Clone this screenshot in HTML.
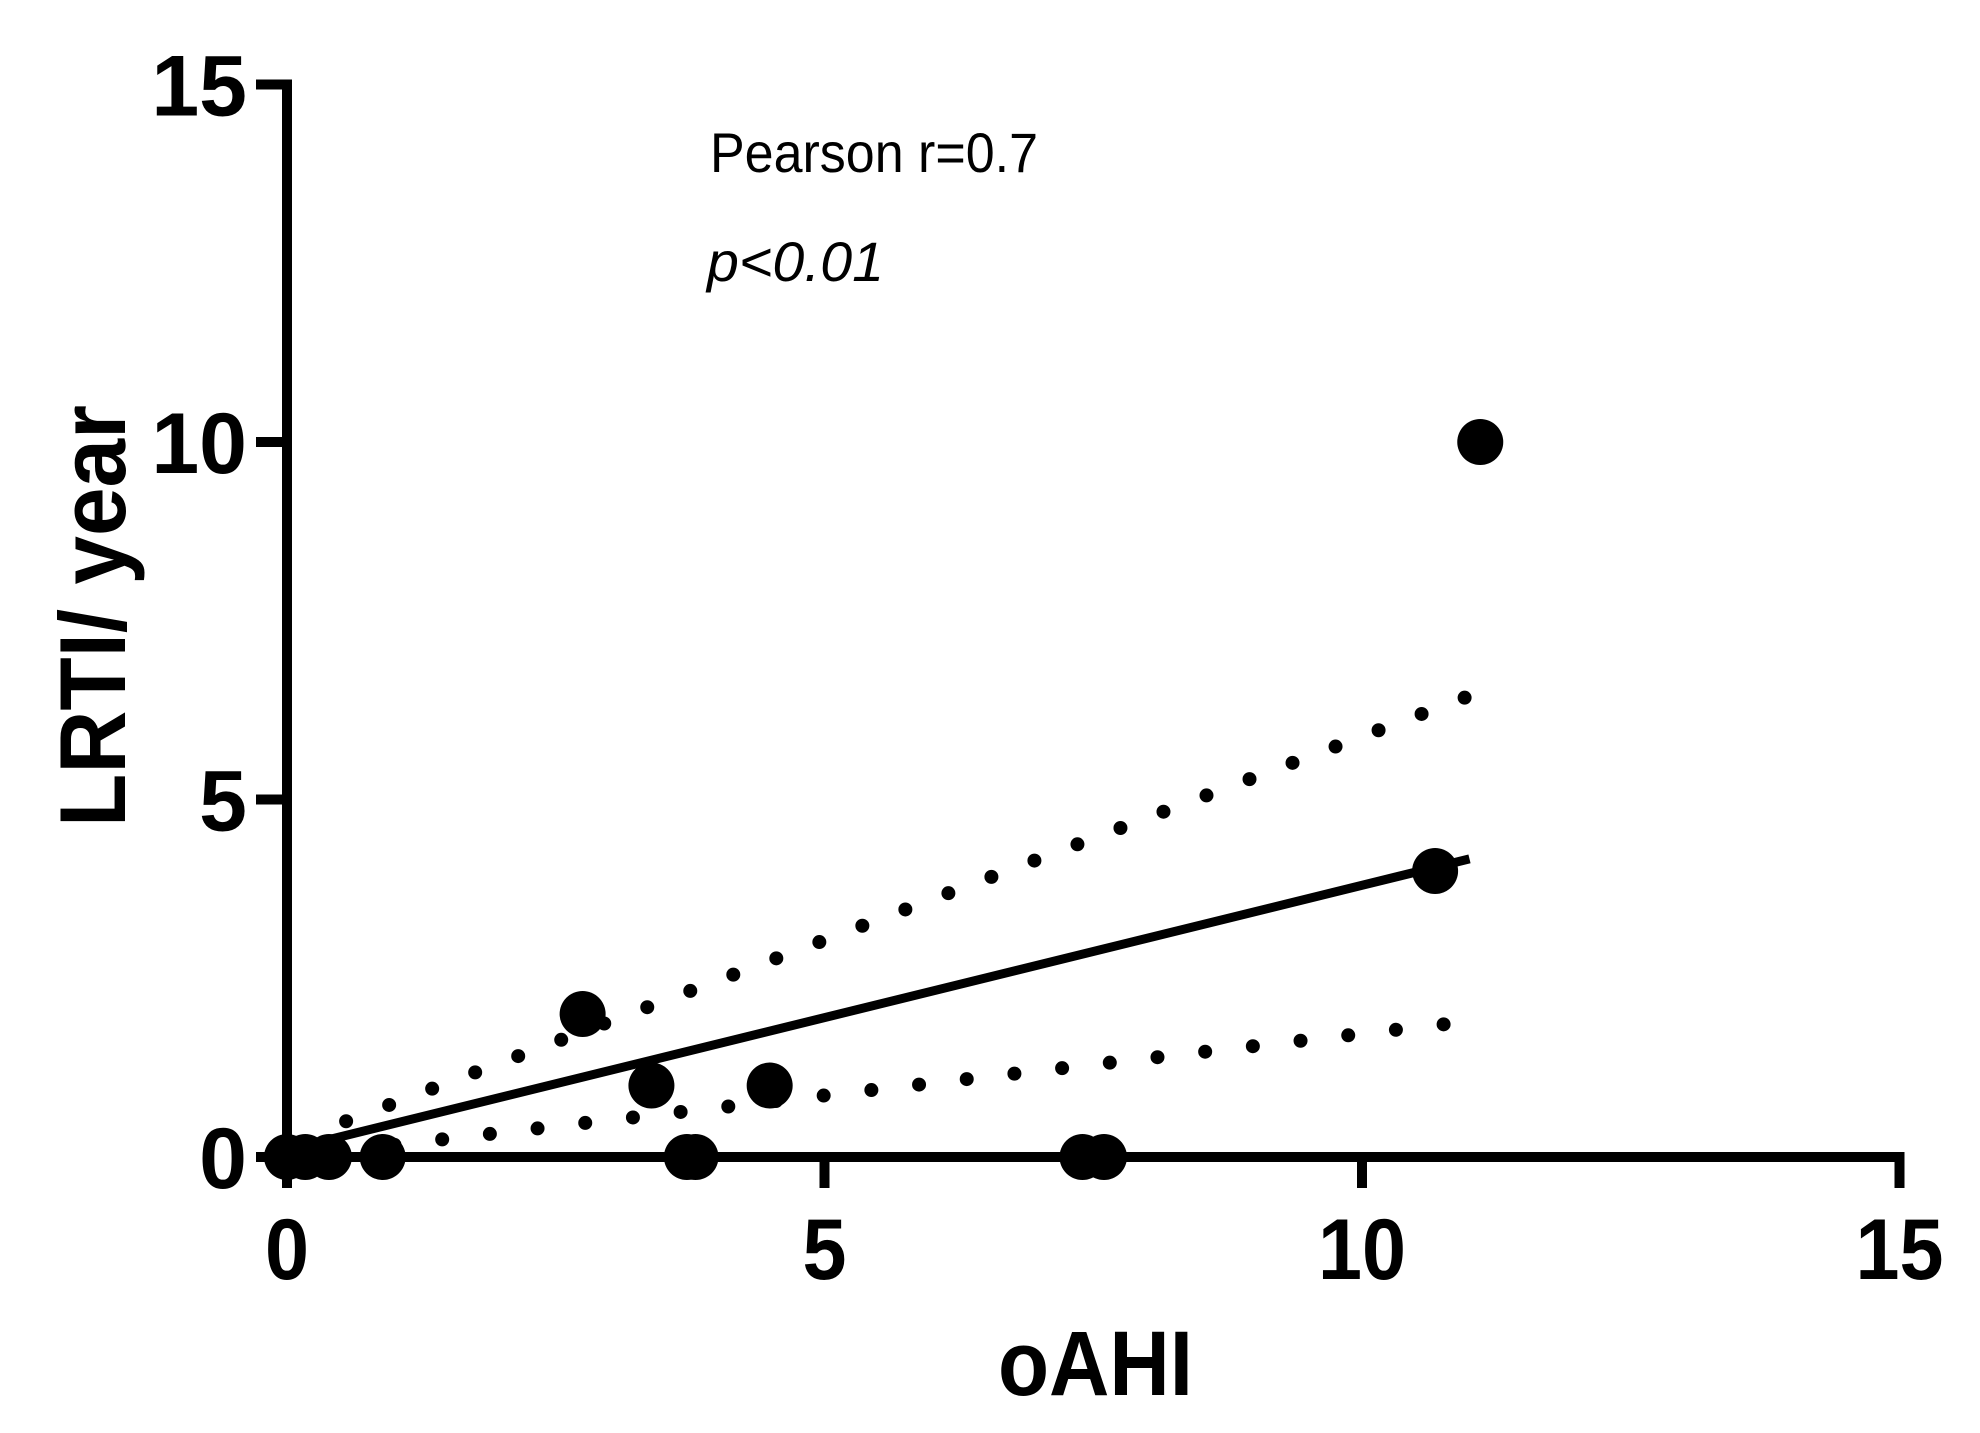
<!DOCTYPE html>
<html><head><meta charset="utf-8"><style>
html,body{margin:0;padding:0;background:#fff;}
svg{display:block;font-family:"Liberation Sans",Arial,sans-serif;}
</style></head><body>
<svg id="chart" width="1980" height="1433" viewBox="0 0 1980 1433">
<g id="axes"></g>
<g id="marks"></g>
<text x="710" y="172" font-size="56" textLength="328" lengthAdjust="spacingAndGlyphs">Pearson r=0.7</text>
<text x="707" y="281" font-size="56" font-style="italic" textLength="177" lengthAdjust="spacingAndGlyphs">p&lt;0.01</text>
<text x="998" y="1395" font-size="92" font-weight="bold" textLength="195" lengthAdjust="spacingAndGlyphs">oAHI</text>
<text transform="translate(125,616) rotate(-90)" font-size="94" font-weight="bold" text-anchor="middle" textLength="422" lengthAdjust="spacingAndGlyphs">LRTI/ year</text>
</svg>
<script>
const xTicks = [0, 5, 10, 15];
const yTicks = [0, 5, 10, 15];
const xTickLabels = ["0", "5", "10", "15"];
const yTickLabels = ["0", "5", "10", "15"];
const pointsX = [0.0, 0.17, 0.39, 0.89, 3.72, 3.8, 7.4, 7.6, 2.75, 3.39, 4.49, 10.68, 11.1];
const pointsY = [0, 0, 0, 0, 0, 0, 0, 0, 2, 1, 1, 4, 10];
const fitX = [0.3, 11.0];
const fitY = [0.21, 4.17];
const upperX = [0.55, 11.0];
const upperY = [0.5, 6.45];
const lowerX = [1.0, 10.9];
const lowerY = [0.17, 1.88];

const NS = "http://www.w3.org/2000/svg";
const X0 = 287, XU = 107.5, Y0 = 1157, YU = 71.5;
function sx(v){ return X0 + v * XU; }
function sy(v){ return Y0 - v * YU; }
function mk(tag, attrs, parent){
  const e = document.createElementNS(NS, tag);
  for (const k in attrs) e.setAttribute(k, attrs[k]);
  parent.appendChild(e);
  return e;
}
const axes = document.getElementById("axes");
const marks = document.getElementById("marks");

let el = mk("line", {x1: sx(0), y1: sy(15) - 5, x2: sx(0), y2: Y0 + 5, stroke: "#000", "stroke-width": 10}, axes);


el = mk("line", {x1: sx(0) - 5, y1: Y0, x2: sx(15) + 5, y2: Y0, stroke: "#000", "stroke-width": 10}, axes);



xTicks.forEach((t, i) => {
  let tk = mk("line", {x1: sx(t), y1: Y0, x2: sx(t), y2: Y0 + 31, stroke: "#000", "stroke-width": 10}, axes);
  
  
  let lb = mk("text", {x: 0, y: 0, "font-size": 86, "font-weight": "bold", "text-anchor": "middle", transform: "translate(" + sx(t) + ",1279) scale(0.92,1)"}, axes);
  lb.textContent = xTickLabels[i];
  
  
});
yTicks.forEach((t, i) => {
  let tk = mk("line", {x1: sx(0) - 31, y1: sy(t), x2: sx(0), y2: sy(t), stroke: "#000", "stroke-width": 10}, axes);
  
  
  let lb = mk("text", {x: 0, y: 0, "font-size": 86, "font-weight": "bold", "text-anchor": "end", transform: "translate(247," + (sy(t) + 31) + ") scale(1.0,1)"}, axes);
  lb.textContent = yTickLabels[i];
  
  
});

el = mk("line", {x1: sx(upperX[0]), y1: sy(upperY[0]), x2: sx(upperX[1]), y2: sy(upperY[1]), stroke: "#000", "stroke-width": 14, "stroke-linecap": "round", "stroke-dasharray": "0 46"}, marks);


el = mk("line", {x1: sx(lowerX[0]), y1: sy(lowerY[0]), x2: sx(lowerX[1]), y2: sy(lowerY[1]), stroke: "#000", "stroke-width": 14, "stroke-linecap": "round", "stroke-dasharray": "0 48"}, marks);


el = mk("line", {x1: sx(fitX[0]), y1: sy(fitY[0]), x2: sx(fitX[1]), y2: sy(fitY[1]), stroke: "#000", "stroke-width": 9}, marks);



pointsX.forEach((x, i) => {
  let p = mk("circle", {cx: sx(x), cy: sy(pointsY[i]), r: 23, fill: "#000"}, marks);
  
  
});
</script>
</body></html>
